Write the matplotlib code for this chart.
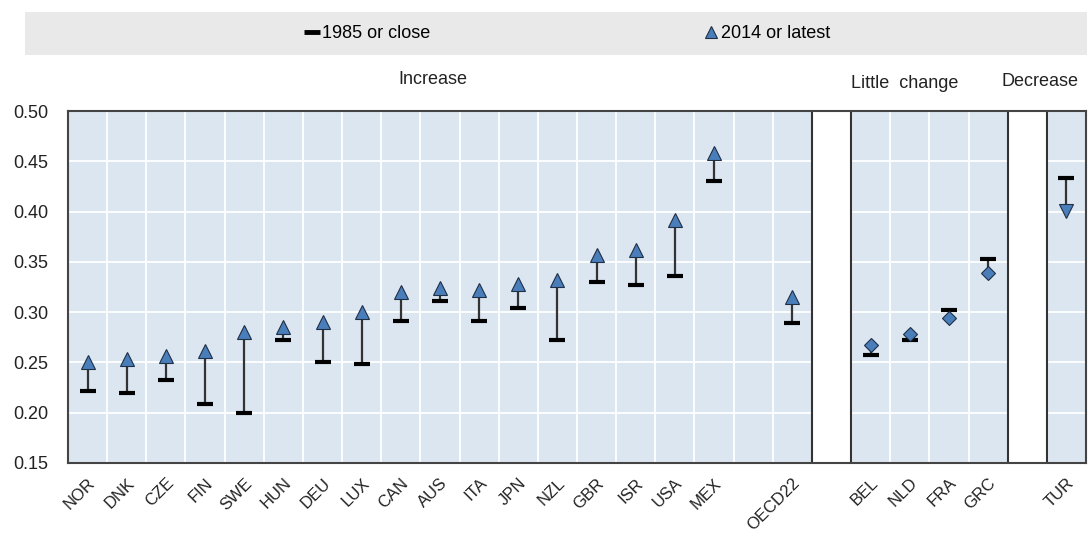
import matplotlib
matplotlib.use("Agg")
import matplotlib.pyplot as plt
from matplotlib.lines import Line2D

plt.rcParams['font.family'] = ['Liberation Sans Narrow', 'Liberation Sans', 'DejaVu Sans']

# ---- data ----
inc_countries = ["NOR", "DNK", "CZE", "FIN", "SWE", "HUN", "DEU", "LUX", "CAN",
                 "AUS", "ITA", "JPN", "NZL", "GBR", "ISR", "USA", "MEX"]
inc_1985 = [0.222, 0.220, 0.233, 0.209, 0.200, 0.272, 0.250, 0.248, 0.291,
            0.311, 0.291, 0.304, 0.272, 0.330, 0.327, 0.336, 0.430]
inc_2014 = [0.250, 0.253, 0.256, 0.261, 0.280, 0.285, 0.290, 0.300, 0.320,
            0.324, 0.322, 0.328, 0.332, 0.357, 0.362, 0.392, 0.458]

oecd_label = ["OECD22"]
oecd_1985 = [0.289]
oecd_2014 = [0.315]

lc_countries = ["BEL", "NLD", "FRA", "GRC"]
lc_1985 = [0.257, 0.272, 0.302, 0.353]
lc_2014 = [0.267, 0.278, 0.294, 0.339]

dec_countries = ["TUR"]
dec_1985 = [0.433]
dec_2014 = [0.401]

# slot layout (26 slots)
n_slots = 26
inc_pos = list(range(0, 17))
oecd_pos = [18]
gap_slots = [19, 24]
lc_pos = [20, 21, 22, 23]
dec_pos = [25]

fig = plt.figure(figsize=(10.9, 5.41), dpi=100)
ax = fig.add_axes([0.0624, 0.1442, 0.9339, 0.6506])

bg = "#DCE6F1"
ax.set_facecolor(bg)
ax.set_xlim(0, n_slots)
ax.set_ylim(0.15, 0.50)

yt = [0.15, 0.20, 0.25, 0.30, 0.35, 0.40, 0.45, 0.50]
ax.set_yticks(yt)
ax.set_yticklabels([f"{v:.2f}" for v in yt], fontsize=13, color="#222222")

# grid
for v in yt[1:-1]:
    ax.axhline(v, color="white", lw=1.3, zorder=1)
for s in range(1, n_slots):
    ax.axvline(s, color="white", lw=1.3, zorder=1)

# white gap slots
for g in gap_slots:
    ax.axvspan(g, g + 1, color="white", zorder=2)
    ax.axvline(g, color="#333333", lw=1.5, zorder=3)
    ax.axvline(g + 1, color="#333333", lw=1.5, zorder=3)

mcol = "#4A7EBB"
ecol = "#1F2F45"
linecol = "#333333"

def draw(pos, v85, v14, marker, ms):
    for x, a, b in zip(pos, v85, v14):
        xc = x + 0.5
        ax.plot([xc, xc], [a, b], color=linecol, lw=1.6, zorder=4)
        ax.plot([xc], [a], marker="_", ms=12, mew=3, color="black", zorder=5)
        ax.plot([xc], [b], marker=marker, ms=ms, mfc=mcol, mec=ecol, mew=0.8,
                linestyle="none", zorder=6)

draw(inc_pos, inc_1985, inc_2014, "^", 10)
draw(oecd_pos, oecd_1985, oecd_2014, "^", 10)
draw(lc_pos, lc_1985, lc_2014, "D", 7.5)
draw(dec_pos, dec_1985, dec_2014, "v", 10)

# x tick labels
all_pos = inc_pos + oecd_pos + lc_pos + dec_pos
all_lab = inc_countries + oecd_label + lc_countries + dec_countries
ax.set_xticks([p + 0.5 for p in all_pos])
ax.set_xticklabels(all_lab, rotation=45, ha="right", rotation_mode="anchor",
                   fontsize=12, color="#222222")
ax.tick_params(axis="y", length=0, pad=14)
ax.tick_params(axis="x", length=0, pad=9)

for sp in ax.spines.values():
    sp.set_color("#444444")
    sp.set_linewidth(1.5)
    sp.set_zorder(7)

# group labels
fig.text(433 / 1090, 1 - 80 / 541, "Increase", ha="center", va="center", fontsize=13, color="#222222")
fig.text(905 / 1090, 1 - 84 / 541, "Little  change", ha="center", va="center", fontsize=13, color="#222222")
fig.text(1040 / 1090, 1 - 82 / 541, "Decrease", ha="center", va="center", fontsize=13, color="#222222")

# legend band
lax = fig.add_axes([25 / 1090, 1 - 55 / 541, 1062 / 1090, 43 / 541])
lax.set_xlim(0, 1)
lax.set_ylim(0, 1)
lax.set_facecolor("#E9E9E9")
for sp in lax.spines.values():
    sp.set_visible(False)
lax.set_xticks([])
lax.set_yticks([])
h1 = Line2D([], [], color="black", marker="_", ms=11, mew=3.5, linestyle="none")
h2 = Line2D([], [], marker="^", ms=8, mfc=mcol, mec=ecol, mew=0.8, linestyle="none")
lax.legend([h1, h2], ["1985 or close", "2014 or latest"], loc="center", ncol=2,
           frameon=False, fontsize=13, handletextpad=0.1, columnspacing=15,
           handlelength=1.0, bbox_to_anchor=(0.51, 0.5))

fig.savefig("out.png", dpi=100)
